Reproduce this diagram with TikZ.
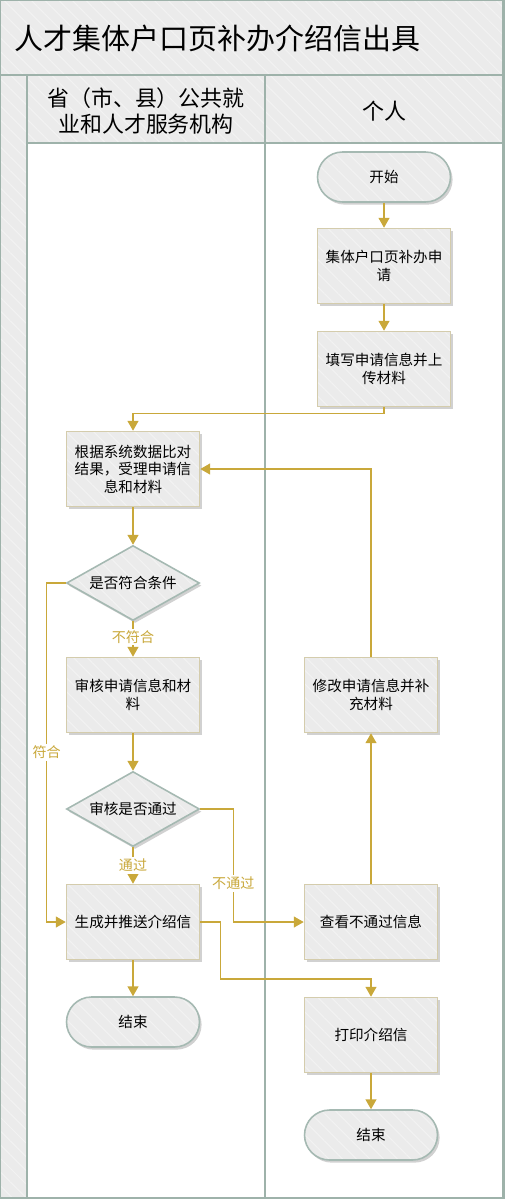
\documentclass[tikz,border=0pt]{standalone}
\usepackage{fontspec}
\setmainfont{Noto Sans CJK SC}
\usetikzlibrary{arrows.meta,shapes.geometric,shadows,patterns.meta}
\definecolor{flowgold}{RGB}{201,168,58}
\definecolor{boxfill}{RGB}{235,235,235}
\definecolor{boxedge}{RGB}{212,204,172}
\definecolor{termedge}{RGB}{165,185,178}
\definecolor{laneline}{RGB}{158,178,170}
\definecolor{hatch}{RGB}{242,242,242}
\begin{document}
\begin{tikzpicture}[x=0.02cm, y=-0.02cm,
  hatched/.style = {preaction={fill=boxfill}, preaction={pattern={Lines[angle=-45,distance=5.5pt,line width=0.6pt]}, pattern color=hatch}},
  shade/.style = {drop shadow={shadow xshift=1.2pt, shadow yshift=-1.5pt, opacity=0.18, fill=black}},
  proc/.style = {draw=boxedge, line width=0.9pt, shade, hatched, minimum width=2.66cm, minimum height=1.5cm, align=center, font=\fontsize{8.3}{10}\selectfont},
  term/.style = {proc, draw=termedge, rounded corners=0.5cm, minimum height=1cm},
  dec/.style = {proc, draw=termedge, diamond, aspect=1.77, inner sep=0pt, rounded corners=0pt},
  flow/.style = {draw=flowgold, line width=0.7pt, -{Triangle[width=6.2pt,length=5.6pt]}},
  lab/.style = {fill=white, text=flowgold, inner sep=1pt, font=\fontsize{8}{10}\selectfont}]
  \useasboundingbox (0,0) rectangle (504,1199);
  % lanes
  \draw[laneline, line width=1pt, hatched] (0,0) rectangle (503.5,75);
  \draw[laneline, line width=1pt, hatched] (0,75) rectangle (27,1198.5);
  \draw[laneline, line width=1pt, hatched] (27,75) rectangle (503.5,143);
  \draw[laneline, line width=1pt] (265,75) -- (265,1198.5);
  \draw[laneline, line width=1.5pt] (0,0) rectangle (503.5,1198.5);
  \node[anchor=west, font=\fontsize{16.5}{20}\selectfont] (t) at (8,38) {人才集体户口页补办介绍信出具};
  \node[align=center, font=\fontsize{12.5}{15.3}\selectfont] (h1) at (146,111) {省（市、县）公共就\\业和人才服务机构};
  \node[font=\fontsize{12.5}{15.3}\selectfont] (h2) at (384,111) {个人};
  % nodes
  \node[term] (1) at (384,177) {开始};
  \node[proc] (2) at (384,266) {集体户口页补办申\\请};
  \node[proc] (3) at (384,369) {填写申请信息并上\\传材料};
  \node[proc] (4) at (133,469) {根据系统数据比对\\结果，受理申请信\\息和材料};
  \node[dec] (5) at (133,583) {是否符合条件};
  \node[proc] (6) at (133,695) {审核申请信息和材\\料};
  \node[dec] (7) at (133,809) {审核是否通过};
  \node[proc] (8) at (371,695) {修改申请信息并补\\充材料};
  \node[proc] (9) at (133,922) {生成并推送介绍信};
  \node[proc] (10) at (371,922) {查看不通过信息};
  \node[term] (11) at (133,1022) {结束};
  \node[proc] (12) at (371,1035) {打印介绍信};
  \node[term] (13) at (371,1135) {结束};
  % connectors
  \draw[flow] (1) -- (2);
  \draw[flow] (2) -- (3);
  \draw[flow] (3.south) -- ++(0,6) -| (4.north);
  \draw[flow] (4) -- (5);
  \draw[flow] (5.west) -- ++(-19,0) |- node[lab, pos=0.25] {符合} (9.west);
  \draw[flow] (5) -- node[lab, pos=0.45] {不符合} (6);
  \draw[flow] (6) -- (7);
  \draw[flow] (7) -- node[lab, pos=0.5] {通过} (9);
  \draw[flow] (7.east) -- ++(33,0) |- node[lab, pos=0.33] {不通过} (10.west);
  \draw[flow] (10) -- (8);
  \draw[flow] (8.north) |- (4.east);
  \draw[flow] (9) -- (11);
  \draw[flow] (9.east) -- ++(20,0) -- ++(0,57) -| (12.north);
  \draw[flow] (12) -- (13);
\end{tikzpicture}
\end{document}
